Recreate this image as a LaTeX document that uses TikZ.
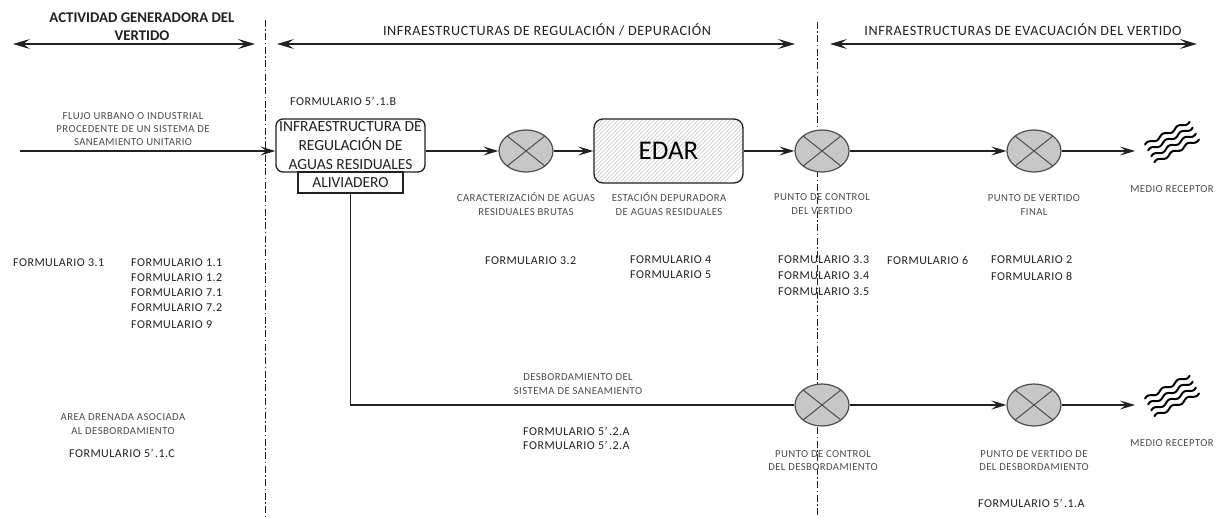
\documentclass[tikz,border=0pt]{standalone}
\usepackage{fontspec}
\setmainfont{Carlito}
\newfontfamily\spaced[LetterSpace=4]{Carlito}
\usetikzlibrary{arrows.meta,shapes.geometric,calc}
\definecolor{ink}{gray}{0.13}
\definecolor{soft}{gray}{0.30}
\definecolor{discfill}{gray}{0.78}
\newcommand{\prm}{’\kern1.5pt}
\tikzset{
  x=1pt,y=-1pt,
  flow/.style={draw=ink,line width=1.3pt,-{Stealth[length=15pt,width=9pt,inset=6pt]}},
  span/.style={draw=ink,line width=1.2pt,{Stealth[length=17pt,width=10pt,inset=7pt]}-{Stealth[length=17pt,width=10pt,inset=7pt]}},
  divider/.style={draw=ink,line width=0.8pt,dash pattern=on 7pt off 2.5pt on 1.5pt off 2.5pt},
  disc/.style={draw=ink!80,line width=1.2pt,fill=discfill,ellipse,minimum width=54pt,minimum height=42pt,inner sep=0pt,
    path picture={\draw[ink!80,line width=1pt] ($(path picture bounding box.north west)+(7.5pt,-5.5pt)$)--($(path picture bounding box.south east)+(-7.5pt,5.5pt)$)
      ($(path picture bounding box.north east)+(-7.5pt,-5.5pt)$)--($(path picture bounding box.south west)+(7.5pt,5.5pt)$);}},
  title/.style={font=\spaced\fontsize{14.2}{18}\selectfont,text=ink,align=center,inner sep=0pt},
  form/.style={font=\spaced\fontsize{12}{14}\selectfont,text=ink,inner sep=0pt,anchor=west},
  note/.style={font=\spaced\fontsize{10.7}{13.2}\selectfont,text=soft,align=center,inner sep=0pt},
  wave/.style={draw=black,line width=2pt,line cap=round},
}
\newcommand{\waves}[2]{%
  \begin{scope}[shift={(#1,#2)},rotate=28]
    \foreach \o in {-10,-3.4,3.4,10}{
      \draw[wave] plot[domain=-25:25,samples=60,smooth] (\x,{\o+1.6*sin(\x*21)});
    }
  \end{scope}}
\begin{document}
\begin{tikzpicture}
\useasboundingbox (0,0) rectangle (1218,518);
\fill[white] (0,0) rectangle (1218,518);

% dividers
\coordinate (d1t) at (265,20); \coordinate (d1b) at (265,518);
\coordinate (d2t) at (817,22); \coordinate (d2b) at (817,518);
\draw[divider] (d1t) -- (d1b);
\draw[divider] (d2t) -- (d2b);

% section spans
\coordinate (s1a) at (13,44); \coordinate (s1b) at (255,44);
\coordinate (s2a) at (277,44); \coordinate (s2b) at (795,44);
\coordinate (s3a) at (830,44); \coordinate (s3b) at (1197,44);
\draw[span] (s1a) -- (s1b);
\draw[span] (s2a) -- (s2b);
\draw[span] (s3a) -- (s3b);
\node[title,font=\bfseries\fontsize{14.8}{18}\selectfont] (t1) at (142,27) {ACTIVIDAD GENERADORA DEL\\VERTIDO};
\node[title] (t2) at (547,30) {INFRAESTRUCTURAS DE REGULACIÓN / DEPURACIÓN};
\node[title] (t3) at (1023,30) {INFRAESTRUCTURAS DE EVACUACIÓN DEL VERTIDO};

% main shapes
\node[draw=ink,line width=1.3pt,rounded corners=7pt,minimum width=149pt,minimum height=53pt,inner sep=0pt,align=center,
  font=\fontsize{15.5}{18.6}\selectfont,text=ink] (reg) at (350.5,145.5) {INFRAESTRUCTURA DE\\REGULACIÓN DE\\AGUAS RESIDUALES};
\node[draw=ink,line width=1.2pt,minimum width=105pt,minimum height=21pt,inner sep=0pt,
  font=\fontsize{15.4}{17}\selectfont,text=ink] (ali) at (350.5,182.5) {ALIVIADERO};
\node[draw=ink,line width=1.3pt,rounded corners=9pt,minimum width=149pt,minimum height=64pt,inner sep=0pt,
  font=\fontsize{27}{29}\selectfont,text=black,
  path picture={\foreach \k in {-40,-36,...,150}{\draw[gray!65,line width=0.45pt] ({\k*1pt-80pt},-40pt) -- ++(80pt,80pt);}
     }] (edar) at (668.5,151) {EDAR};
\node[disc] (c1) at (526,151) {};
\node[disc] (c2) at (822,151) {};
\node[disc] (c3) at (1034,151) {};
\node[disc] (c4) at (822,405) {};
\node[disc] (c5) at (1034,405) {};

% connectors
\coordinate (start) at (20,151);
\coordinate (m1) at (1135,151);
\coordinate (m2) at (1135,405);
\draw[flow] (start) -- (reg.west|-start);
\draw[flow] (reg.east|-c1) -- (c1);
\draw[flow] (c1) -- (edar);
\draw[flow] (edar) -- (c2);
\draw[flow] (c2) -- (c3);
\draw[flow] (c3) -- (m1);
\draw[flow,-] (ali.south) |- (c4.west);
\draw[flow] (c4) -- (c5);
\draw[flow] (c5) -- (m2);

\waves{1172}{142}
\waves{1172}{396}

% labels
\node[note] (n1) at (133,129) {FLUJO URBANO O INDUSTRIAL\\PROCEDENTE DE UN SISTEMA DE\\SANEAMIENTO UNITARIO};
\node[form] (f0) at (290,101) {FORMULARIO 5\prm.1.B};
\node[note] (n2) at (526,204) {CARACTERIZACIÓN DE AGUAS\\RESIDUALES BRUTAS};
\node[note] (n3) at (669,204) {ESTACIÓN DEPURADORA\\DE AGUAS RESIDUALES};
\node[note] (n4) at (822,204) {PUNTO DE CONTROL\\DEL VERTIDO};
\node[note] (n5) at (1034,205) {PUNTO DE VERTIDO\\FINAL};
\node[note] (n6) at (1172,189) {MEDIO RECEPTOR};
\node[note] (n7) at (578,384) {DESBORDAMIENTO DEL\\SISTEMA DE SANEAMIENTO};
\node[note] (n8) at (123,424) {AREA DRENADA ASOCIADA\\AL DESBORDAMIENTO};
\node[note] (n9) at (823,460.5) {PUNTO DE CONTROL\\DEL DESBORDAMIENTO};
\node[note] (n10) at (1034,460.5) {PUNTO DE VERTIDO DE\\DEL DESBORDAMIENTO};
\node[note] (n11) at (1172,443) {MEDIO RECEPTOR};

\node[form] (a1) at (13,263) {FORMULARIO 3.1};
\node[form] (a2) at (131,263) {FORMULARIO 1.1};
\node[form] (a3) at (131,278) {FORMULARIO 1.2};
\node[form] (a4) at (131,293) {FORMULARIO 7.1};
\node[form] (a5) at (131,308) {FORMULARIO 7.2};
\node[form] (a6) at (131,325) {FORMULARIO 9};
\node[form] (a7) at (485,261) {FORMULARIO 3.2};
\node[form] (a8) at (630,260) {FORMULARIO 4};
\node[form] (a9) at (630,275) {FORMULARIO 5};
\node[form] (a10) at (778,260) {FORMULARIO 3.3};
\node[form] (a11) at (778,276) {FORMULARIO 3.4};
\node[form] (a12) at (778,292) {FORMULARIO 3.5};
\node[form] (a13) at (887,260) {FORMULARIO 6};
\node[form] (a14) at (991,260) {FORMULARIO 2};
\node[form] (a15) at (991,276) {FORMULARIO 8};
\node[form] (a16) at (69,453) {FORMULARIO 5\prm.1.C};
\node[form] (a17) at (523,431) {FORMULARIO 5\prm.2.A};
\node[form] (a18) at (523,445) {FORMULARIO 5\prm.2.A};
\node[form] (a19) at (978,503) {FORMULARIO 5\prm.1.A};
\end{tikzpicture}
\end{document}
